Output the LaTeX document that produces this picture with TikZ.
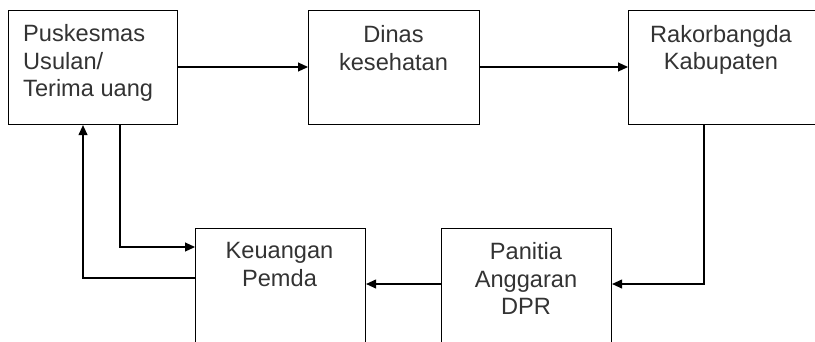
\documentclass[tikz,border=0pt]{standalone}
\usepackage{fontspec}
\setmainfont{Liberation Sans}
\usetikzlibrary{arrows.meta}
\begin{document}
\begin{tikzpicture}[x=1pt,y=-1pt,
  box/.style={draw=black,line width=1.1pt,rectangle,inner sep=0pt,anchor=north west},
  lbl/.style={inner sep=0pt,font=\fontsize{23.6pt}{27.5pt}\selectfont,text=black!80},
  conn/.style={line width=1.1pt,-{Triangle[length=10pt,width=9pt]}},
  plain/.style={line width=1.1pt}]
\useasboundingbox (0,0) rectangle (815,341);
\clip (0,0) rectangle (815,341);
% boxes
\node[box,minimum width=169pt,minimum height=114pt] (pusk) at (8,10) {};
\node[box,minimum width=171pt,minimum height=114pt] (dinas) at (308,10) {};
\node[box,minimum width=190pt,minimum height=114pt] (rakor) at (628,10) {};
\node[box,minimum width=170pt,minimum height=140pt] (keu) at (195,228) {};
\node[box,minimum width=170pt,minimum height=140pt] (pan) at (441,228) {};
% labels
\node[lbl,anchor=north west,align=left] (tpusk) at (23,24.5) {Puskesmas\\Usulan/\\Terima uang};
\node[lbl,anchor=north,align=center] (tdinas) at (393.5,25.5) {Dinas\\kesehatan};
\node[lbl,anchor=north,align=center] (trakor) at (721,25) {Rakorbangda\\Kabupaten};
\node[lbl,anchor=north,align=center] (tkeu) at (279.5,242.5) {Keuangan\\Pemda};
\node[lbl,anchor=north,align=center] (tpan) at (526,242.5) {Panitia\\Anggaran\\DPR};
% coordinates
\coordinate (c1) at (120,247);
\coordinate (c2) at (83,278);
\coordinate (c3) at (704,284);
% connectors
\draw[conn] (pusk.east |- 0,67) -- (dinas.west |- 0,67);
\draw[conn] (dinas.east |- 0,67) -- (rakor.west |- 0,67);
\draw[conn] (rakor.south -| c3) -- (c3) -- (pan.east |- c3);
\draw[conn] (pan.west |- c3) -- (keu.east |- c3);
\draw[conn] (pusk.south -| c1) -- (c1) -- (keu.west |- c1);
\draw[conn] (keu.west |- c2) -- (c2) -- (pusk.south -| c2);
\end{tikzpicture}
\end{document}
